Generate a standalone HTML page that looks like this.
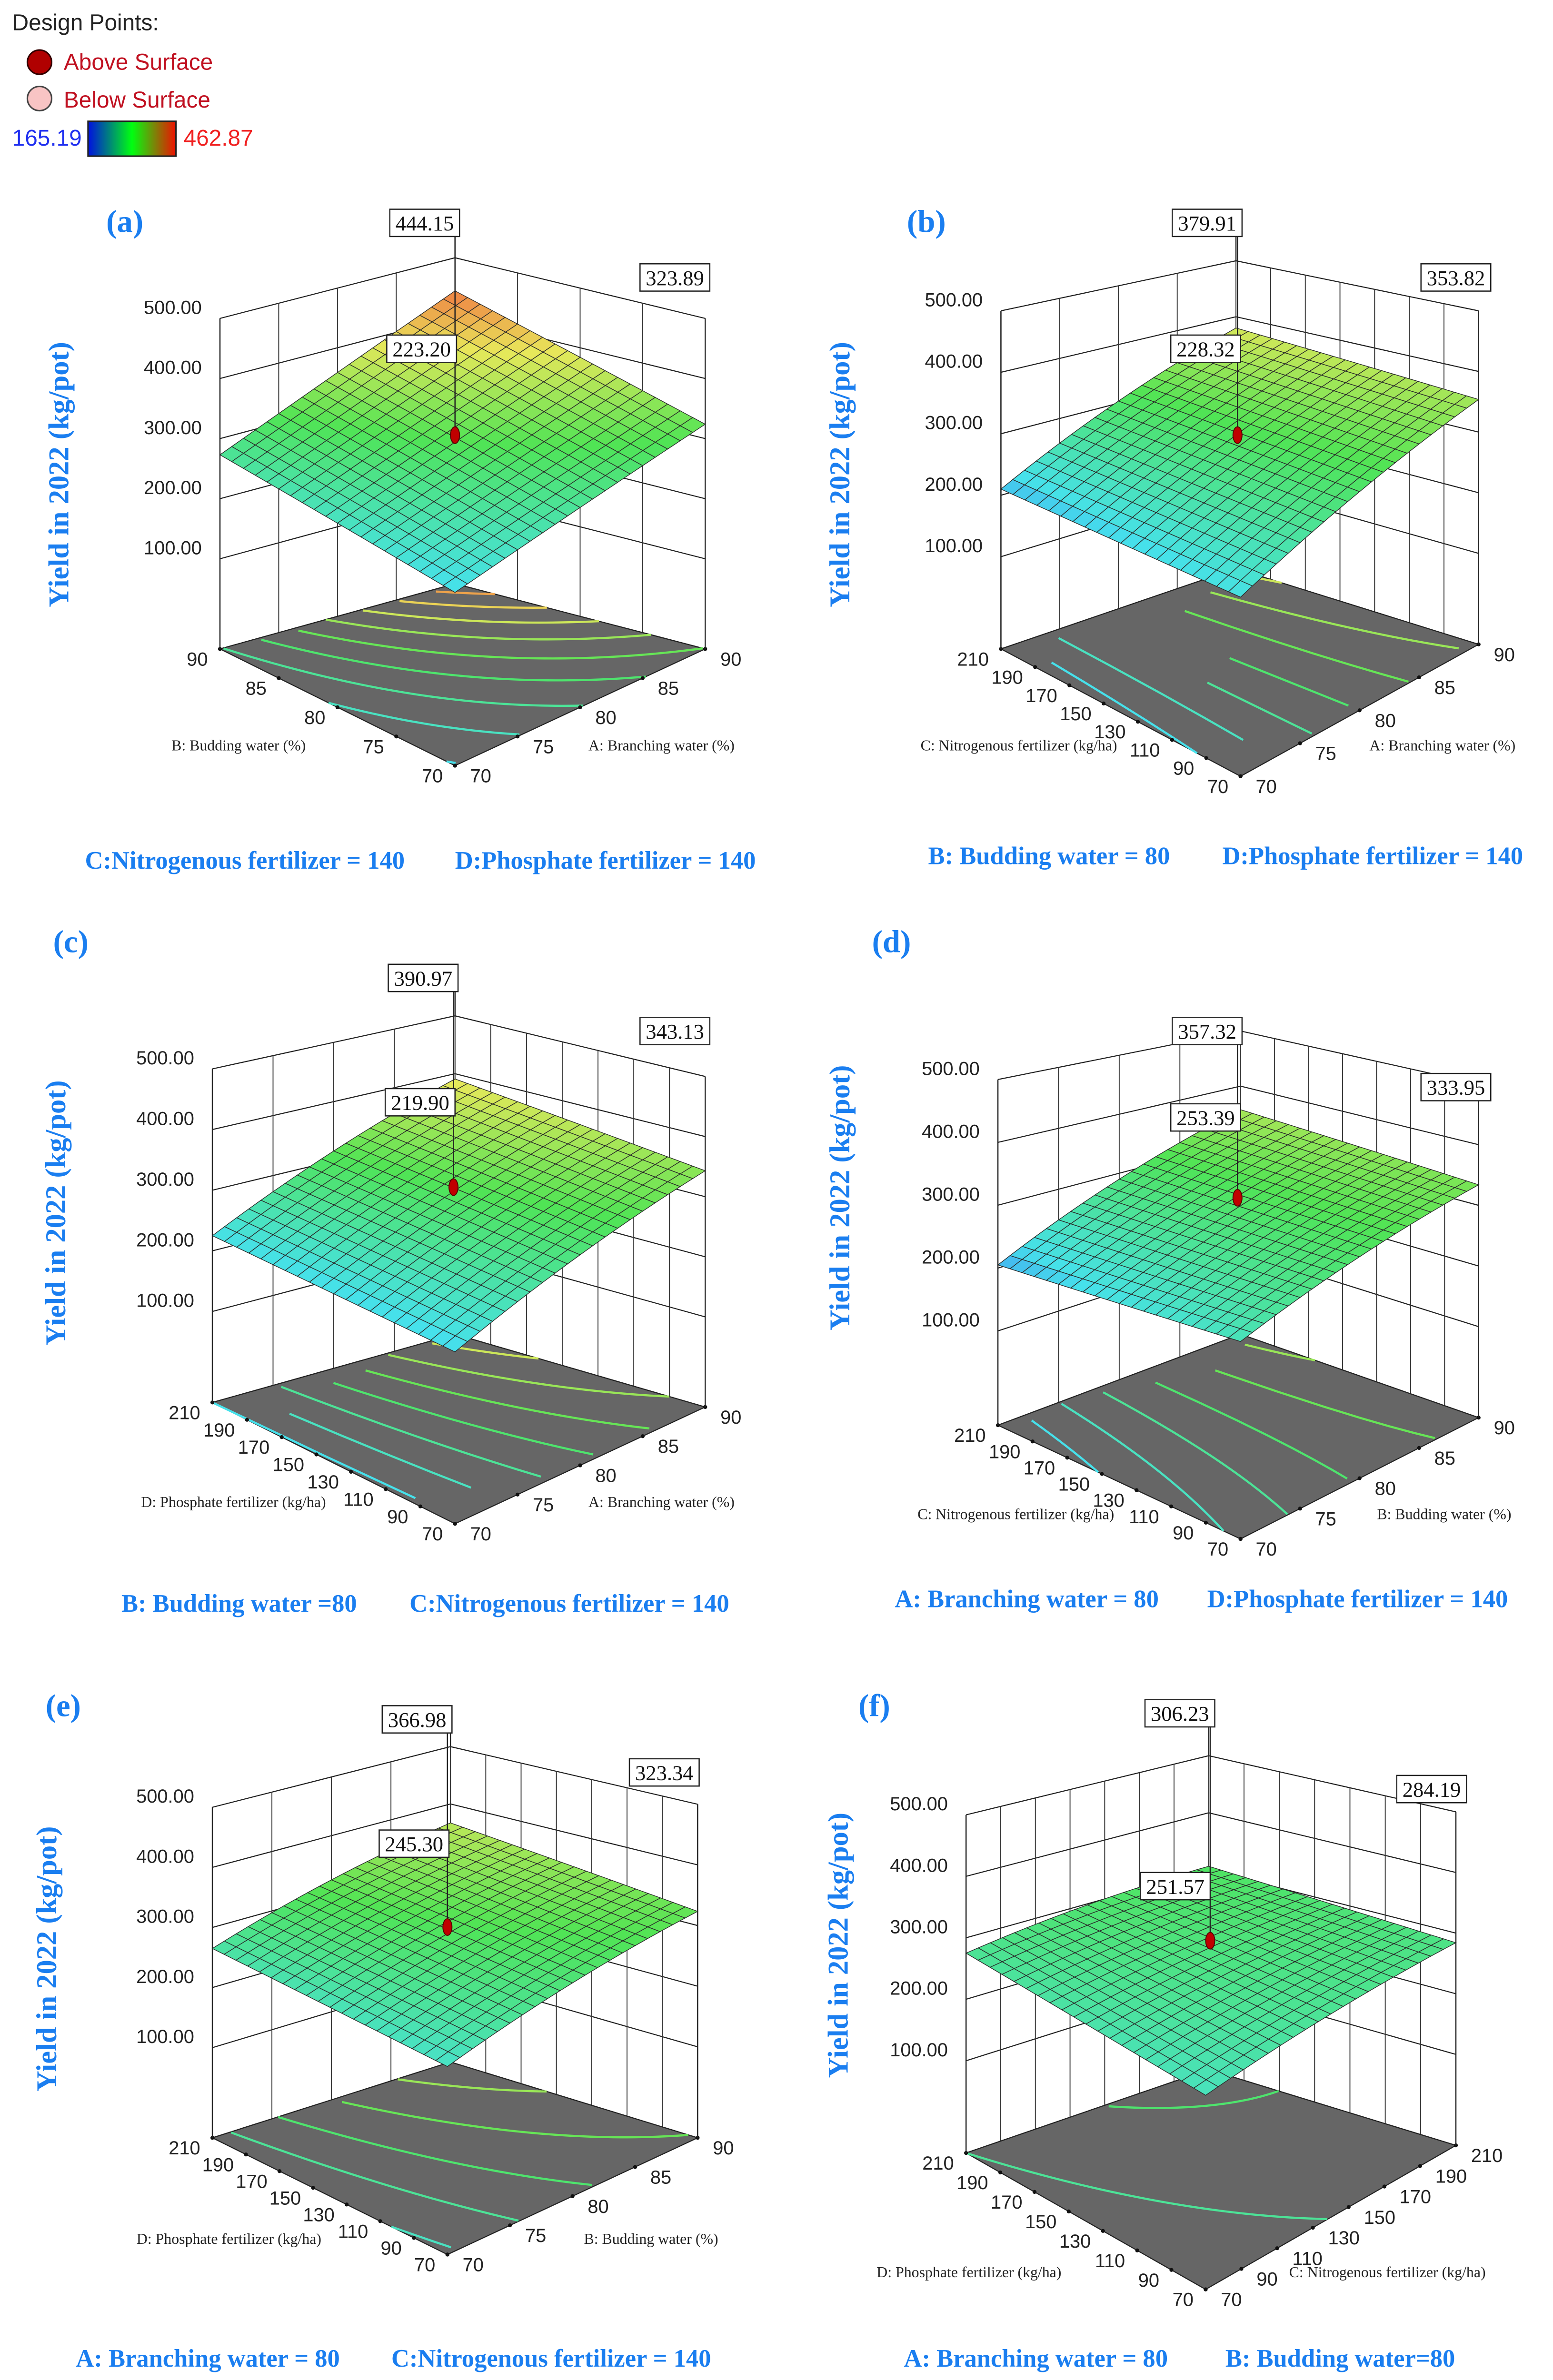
<!DOCTYPE html>
<html><head><meta charset="utf-8"><style>
html,body{margin:0;padding:0;background:#fff;width:3262px;height:5004px;overflow:hidden;}
svg{display:block;}
.tk{font-family:"Liberation Sans",sans-serif;font-size:12.5px;fill:#222;}
.ax{font-family:"Liberation Serif",serif;font-size:10px;fill:#222;}
.yt{font-family:"Liberation Serif",serif;font-size:19px;font-weight:bold;fill:#1a7ef0;}
.lt{font-family:"Liberation Serif",serif;font-size:21px;font-weight:bold;fill:#1a7ef0;}
.cap{font-family:"Liberation Serif",serif;font-size:16.5px;font-weight:bold;fill:#1a7ef0;}
.bx{font-family:"Liberation Serif",serif;font-size:14px;fill:#111;}
</style></head><body>
<svg id="fig" width="3262" height="5004" viewBox="0 0 1024 1571" xmlns="http://www.w3.org/2000/svg">
<defs><linearGradient id="cbar" x1="0" x2="1" y1="0" y2="0">
<stop offset="0" stop-color="#0010e0"/><stop offset="0.5" stop-color="#00ff10"/><stop offset="1" stop-color="#f01000"/></linearGradient></defs>
<g>
<text x="8" y="20" font-family="Liberation Sans,sans-serif" font-size="15" fill="#222">Design Points:</text>
<circle cx="26" cy="41" r="8" fill="#b00000" stroke="#300"/>
<text x="42" y="46" font-family="Liberation Sans,sans-serif" font-size="15" fill="#c01020">Above Surface</text>
<circle cx="26" cy="65" r="8" fill="#f8c4c4" stroke="#444"/>
<text x="42" y="71" font-family="Liberation Sans,sans-serif" font-size="15" fill="#c01020">Below Surface</text>
<text x="8" y="96" font-family="Liberation Sans,sans-serif" font-size="15" fill="#2030f0">165.19</text>
<rect x="58" y="80" width="58" height="23" fill="url(#cbar)" stroke="#222"/>
<text x="121" y="96" font-family="Liberation Sans,sans-serif" font-size="15" fill="#f02020">462.87</text>
</g>
<g id="panels"></g>
</svg>
<script>
// data: corner response values (front = both low, right = u high, left = v high, back = both high)
const zFront = [223.20, 228.32, 219.90, 253.39, 245.30, 251.57];
const zRight = [323.89, 353.82, 343.13, 333.95, 323.34, 284.19];
const zLeft  = [273, 210, 225, 205, 265, 275];
const zBack  = [444.15, 379.91, 390.97, 357.32, 366.98, 306.23];
const curvature = [0, -35, -35, -35, -35, -30];
const panelLetters = ['(a)','(b)','(c)','(d)','(e)','(f)'];
const uTickLabels = [[70,75,80,85,90],[70,75,80,85,90],[70,75,80,85,90],[70,75,80,85,90],[70,75,80,85,90],[70,90,110,130,150,170,190,210]];
const vTickLabels = [[70,75,80,85,90],[70,90,110,130,150,170,190,210],[70,90,110,130,150,170,190,210],[70,90,110,130,150,170,190,210],[70,90,110,130,150,170,190,210],[70,90,110,130,150,170,190,210]];
const uTitles = ['A: Branching water (%)','A: Branching water (%)','A: Branching water (%)','B: Budding water (%)','B: Budding water (%)','C: Nitrogenous fertilizer (kg/ha)'];
const vTitles = ['B: Budding water (%)','C: Nitrogenous fertilizer (kg/ha)','D: Phosphate fertilizer (kg/ha)','C: Nitrogenous fertilizer (kg/ha)','D: Phosphate fertilizer (kg/ha)','D: Phosphate fertilizer (kg/ha)'];
const captionsLeft = ['C:Nitrogenous fertilizer = 140','B: Budding water = 80','B: Budding water =80','A: Branching water = 80','A: Branching water = 80','A: Branching water = 80'];
const captionsRight = ['D:Phosphate fertilizer = 140','D:Phosphate fertilizer = 140','C:Nitrogenous fertilizer = 140','D:Phosphate fertilizer = 140','C:Nitrogenous fertilizer = 140','B: Budding water=80'];
const zTicks = [100,200,300,400,500];

// layout geometry (pixels, not data)
const geom = [
 {F:[300,505],R:[465,428],L:[145,428],B:[300,385],tR:210,tL:210,tB:170,let:[70,153],yt:[38,313],cl:[56,573],cr:[300,573],bB:[280,147],bR:[445,183],bM:[278,230],dot:287,uT:[388,495],vT:[113,495]},
 {F:[818,512],R:[975,425],L:[660,428],B:[815,375],tR:205,tL:205,tB:172,let:[598,153],yt:[553,313],cl:[612,570],cr:[806,570],bB:[796,147],bR:[960,183],bM:[795,230],dot:287,uT:[903,495],vT:[607,495]},
 {F:[300,1005],R:[465,928],L:[140,925],B:[300,880],tR:710,tL:705,tB:670,let:[35,628],yt:[36,800],cl:[80,1063],cr:[270,1063],bB:[279,645],bR:[445,680],bM:[277,727],dot:783,uT:[388,994],vT:[93,994]},
 {F:[818,1015],R:[975,935],L:[658,940],B:[818,880],tR:715,tL:712,tB:680,let:[575,628],yt:[553,790],cl:[590,1060],cr:[796,1060],bB:[796,680],bR:[960,717],bM:[795,737],dot:790,uT:[908,1002],vT:[605,1002]},
 {F:[295,1487],R:[460,1410],L:[140,1410],B:[297,1360],tR:1190,tL:1192,tB:1152,let:[30,1132],yt:[30,1292],cl:[50,1561],cr:[258,1561],bB:[275,1134],bR:[438,1169],bM:[273,1216],dot:1271,uT:[385,1480],vT:[90,1480]},
 {F:[795,1510],R:[960,1415],L:[637,1420],B:[797,1365],tR:1195,tL:1197,tB:1158,let:[566,1132],yt:[552,1283],cl:[596,1561],cr:[808,1561],bB:[778,1130],bR:[944,1180],bM:[775,1244],dot:1280,uT:[850,1502],vT:[578,1502]}
];

const NS='http://www.w3.org/2000/svg';
const root=document.getElementById('panels');
function mk(tag,attrs,parent){const e=document.createElementNS(NS,tag);for(const k in attrs)e.setAttribute(k,attrs[k]);parent.appendChild(e);return e;}
function lerp(a,b,t){return a+(b-a)*t;}
function cmap(z){
  const t=Math.max(0,Math.min(1,(z-165.19)/(462.87-165.19)));
  const st=[[0,[60,70,250]],[0.2,[70,225,235]],[0.5,[80,228,85]],[0.75,[232,232,90]],[1,[242,90,60]]];
  for(let i=1;i<st.length;i++){if(t<=st[i][0]){const a=st[i-1],b=st[i],f=(t-a[0])/(b[0]-a[0]);
    return 'rgb('+a[1].map((c,k)=>Math.round(lerp(c,b[1][k],f))).join(',')+')';}}
  return 'rgb(242,90,60)';
}
function fmt(v){return v.toFixed(2);}

for(let p=0;p<6;p++){
  const g=geom[p];
  const grp=mk('g',{},root);
  
  
  const zf=zFront[p],zr=zRight[p],zl=zLeft[p],zb=zBack[p],q=curvature[p];
  const f=(u,v)=>zf+(zr-zf)*u+(zl-zf)*v+(zb-zr-zl+zf)*u*v+q*(u*u-u);
  const hF=(g.L[1]-g.tL+g.R[1]-g.tR)/2+12, hR=g.R[1]-g.tR, hL=g.L[1]-g.tL, hB=g.B[1]-g.tB;
  function P(u,v,z){
    const x=(1-u)*(1-v)*g.F[0]+u*(1-v)*g.R[0]+(1-u)*v*g.L[0]+u*v*g.B[0];
    const y=(1-u)*(1-v)*g.F[1]+u*(1-v)*g.R[1]+(1-u)*v*g.L[1]+u*v*g.B[1];
    const H=(1-u)*(1-v)*hF+u*(1-v)*hR+(1-u)*v*hL+u*v*hB;
    return [x,y-(z+50)/550*H];
  }
  const ln=(a,b,par,col,w)=>mk('line',{x1:a[0],y1:a[1],x2:b[0],y2:b[1],stroke:col||'#222','stroke-width':w||0.7},par);
  const walls=mk('g',{},grp);
  
  
  zTicks.forEach(z=>{ln(P(0,1,z),P(1,1,z),walls);ln(P(1,1,z),P(1,0,z),walls);});
  uTickLabels[p].forEach((t,i,arr)=>{const u=i/(arr.length-1);ln(P(u,1,-50),P(u,1,500),walls,'#333',0.6);});
  vTickLabels[p].forEach((t,i,arr)=>{const v=i/(arr.length-1);ln(P(1,v,-50),P(1,v,500),walls,'#333',0.6);});
  ln(P(0,1,-50),P(1,1,-50),walls);ln(P(1,1,-50),P(1,0,-50),walls);
  zTicks.forEach(z=>{const pt=P(0,1,z);const t=mk('text',{x:pt[0]-12,y:pt[1]-3,'text-anchor':'end',class:'tk'},grp);t.textContent=fmt(z);
    
    });
  const fl=[P(0,0,-50),P(1,0,-50),P(1,1,-50),P(0,1,-50)];
  const floor=mk('polygon',{points:fl.map(a=>a.join(',')).join(' '),fill:'#666',stroke:'#222','stroke-width':0.7},grp);
  
  
  const a=zf,b=zr-zf,c=zl-zf,d=zb-zr-zl+zf;
  for(let L=150;L<=460;L+=25){
    let seg=[],segs=[];
    for(let k=0;k<=80;k++){const u=k/80;const den=c+d*u;if(Math.abs(den)<1e-6){continue;}
      const v=(L-a-b*u-q*(u*u-u))/den;
      if(v>=0&&v<=1){seg.push(P(u,v,-50));}else{if(seg.length>1)segs.push(seg);seg=[];}}
    if(seg.length>1)segs.push(seg);
    segs.forEach(s=>{const pl=mk('polyline',{points:s.map(x=>x.join(',')).join(' '),fill:'none',stroke:cmap(L),'stroke-width':1.4},grp);
      
      });
  }
  uTickLabels[p].forEach((t,i,arr)=>{const u=i/(arr.length-1);const pt=P(u,0,-50);
    mk('circle',{cx:pt[0],cy:pt[1],r:1.3,fill:'#111'},grp);
    const tx=mk('text',{x:pt[0]+10,y:pt[1]+11,class:'tk'},grp);tx.textContent=t;
    
    });
  vTickLabels[p].forEach((t,i,arr)=>{const v=i/(arr.length-1);const pt=P(0,v,-50);
    mk('circle',{cx:pt[0],cy:pt[1],r:1.3,fill:'#111'},grp);
    const tx=mk('text',{x:pt[0]-8,y:pt[1]+11,'text-anchor':'end',class:'tk'},grp);tx.textContent=t;
    
    });
  const surf=mk('g',{stroke:'#2a2a2a','stroke-width':0.45},grp);
  
  
  const N=20;
  for(let s=2*N-2;s>=0;s--){for(let i=0;i<N;i++){const j=s-i;if(j<0||j>=N)continue;
    const u0=i/N,u1=(i+1)/N,v0=j/N,v1=(j+1)/N;
    const pts=[P(u0,v0,f(u0,v0)),P(u1,v0,f(u1,v0)),P(u1,v1,f(u1,v1)),P(u0,v1,f(u0,v1))];
    mk('polygon',{points:pts.map(x=>x.join(',')).join(' '),fill:cmap(f((u0+u1)/2,(v0+v1)/2))},surf);}}
  ln(P(1,1,500),[P(1,1,500)[0],g.bB[1]+8],grp,'#222',0.8);
  ln([g.bB[0]+20,g.bB[1]+8],[g.bB[0]+20,g.dot],grp,'#222',0.8);
  ln(P(0,1,-50),P(0,1,500),grp,'#222',0.8);
  ln(P(1,0,-50),P(1,0,500),grp,'#222',0.8);
  const dot=mk('ellipse',{cx:g.bB[0]+20,cy:g.dot,rx:3,ry:5.5,fill:'#c00000',stroke:'#500','stroke-width':0.6},grp);
  
  
  [[g.bB,zb],[g.bR,zr],[g.bM,zf]].forEach(([pos,val])=>{
    mk('rect',{x:pos[0]-23,y:pos[1]-9,width:46,height:18,fill:'#fff',stroke:'#222','stroke-width':0.8},grp);
    const t=mk('text',{x:pos[0],y:pos[1]+5,'text-anchor':'middle',class:'bx'},grp);t.textContent=fmt(val);
    
    });
  const ut=mk('text',{x:g.uT[0],y:g.uT[1],class:'ax'},grp);ut.textContent=uTitles[p];
  
  
  const vt=mk('text',{x:g.vT[0],y:g.vT[1],class:'ax'},grp);vt.textContent=vTitles[p];
  
  
  const yt=mk('text',{x:g.yt[0],y:g.yt[1],class:'yt','text-anchor':'middle',transform:'rotate(-90 '+(g.yt[0])+' '+g.yt[1]+')',dy:'7'},grp);yt.textContent='Yield in 2022 (kg/pot)';
  
  
  const lt=mk('text',{x:g.let[0],y:g.let[1],class:'lt'},grp);lt.textContent=panelLetters[p];
  
  
  const c1=mk('text',{x:g.cl[0],y:g.cl[1],class:'cap'},grp);c1.textContent=captionsLeft[p];
  
  
  const c2=mk('text',{x:g.cr[0],y:g.cr[1],class:'cap'},grp);c2.textContent=captionsRight[p];
  
  
}
</script>
</body></html>
